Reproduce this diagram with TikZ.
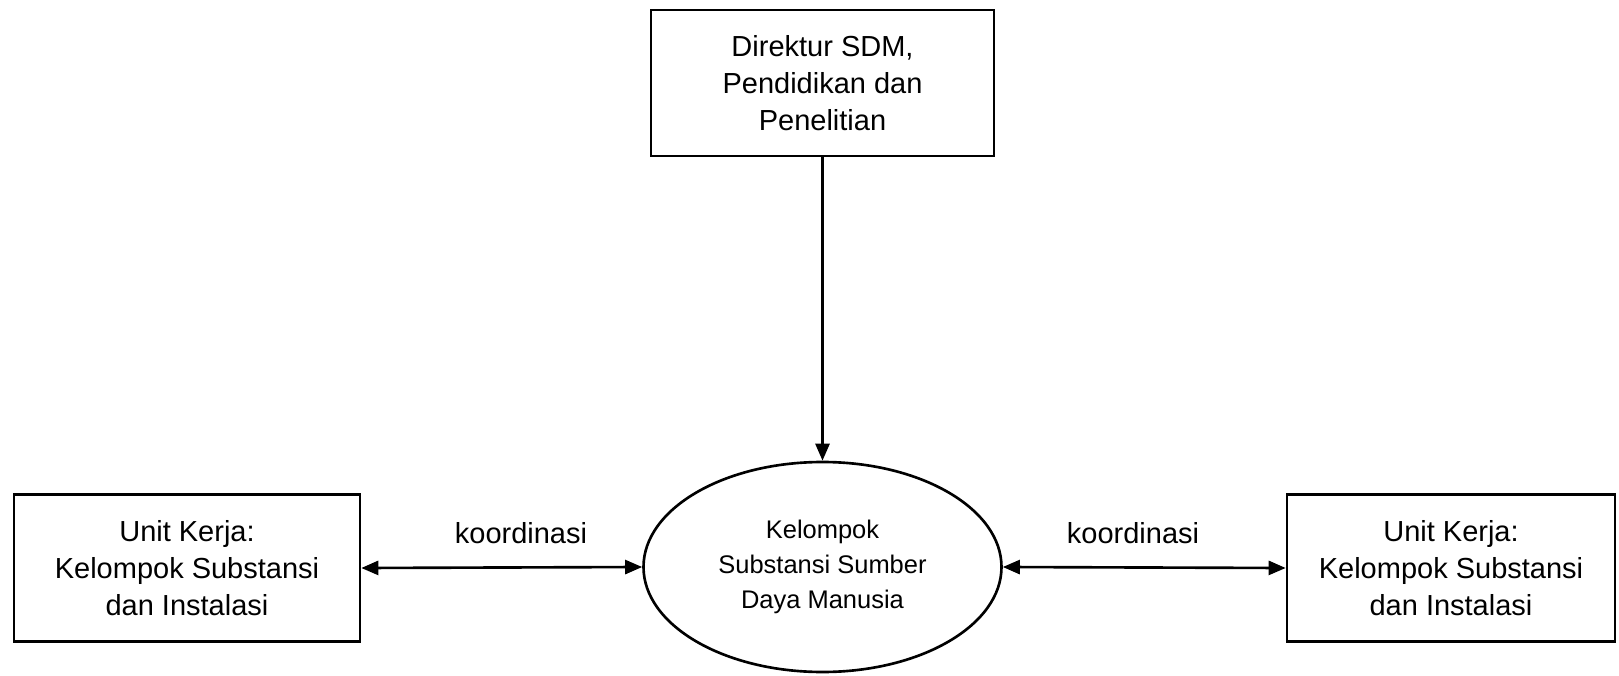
\documentclass[tikz,border=0pt]{standalone}
\usepackage{fontspec}
\setmainfont{Liberation Sans}
\usepackage{tikz}
\usetikzlibrary{shapes.geometric,arrows.meta}

\begin{document}
\begin{tikzpicture}[
    box/.style = {draw, line width=1.5pt, align=center, inner sep=0pt,
                  font=\fontsize{16.5}{21}\selectfont},
    unit/.style = {ellipse, draw, line width=1.5pt, align=center, inner sep=0pt,
                   minimum width=7.16cm, minimum height=4.2cm,
                   font=\fontsize{14.5}{20}\selectfont},
    link/.style = {line width=1.5pt, -{Triangle[length=0.34cm,width=0.28cm]}},
    both/.style = {line width=1.5pt, {Triangle[length=0.34cm,width=0.28cm]}-{Triangle[length=0.34cm,width=0.28cm]}},
    lbl/.style = {font=\fontsize{16.5}{21}\selectfont}
    ]
    \useasboundingbox (0,0) rectangle (32.38,13.5);
    \node[box, minimum width=6.86cm, minimum height=2.92cm] (direktur) at (16.45,11.84)
        {Direktur SDM,\\Pendidikan dan\\Penelitian};
    \node[unit] (sdm) at (16.45,2.16)
        {Kelompok\\Substansi Sumber\\Daya Manusia};
    \node[box, minimum width=6.92cm, minimum height=2.94cm] (kiri) at (3.74,2.14)
        {Unit Kerja:\\Kelompok Substansi\\dan Instalasi};
    \node[box, minimum width=6.56cm, minimum height=2.94cm] (kanan) at (29.02,2.14)
        {Unit Kerja:\\Kelompok Substansi\\dan Instalasi};

    \draw[link] (direktur.south) -- (sdm.north);
    \draw[both] (kiri.east) -- (sdm.west);
    \draw[both] (sdm.east) -- (kanan.west);

    \node[lbl] (koor1) at (10.42,2.84) {koordinasi};
    \node[lbl] (koor2) at (22.66,2.84) {koordinasi};
\end{tikzpicture}
\end{document}
